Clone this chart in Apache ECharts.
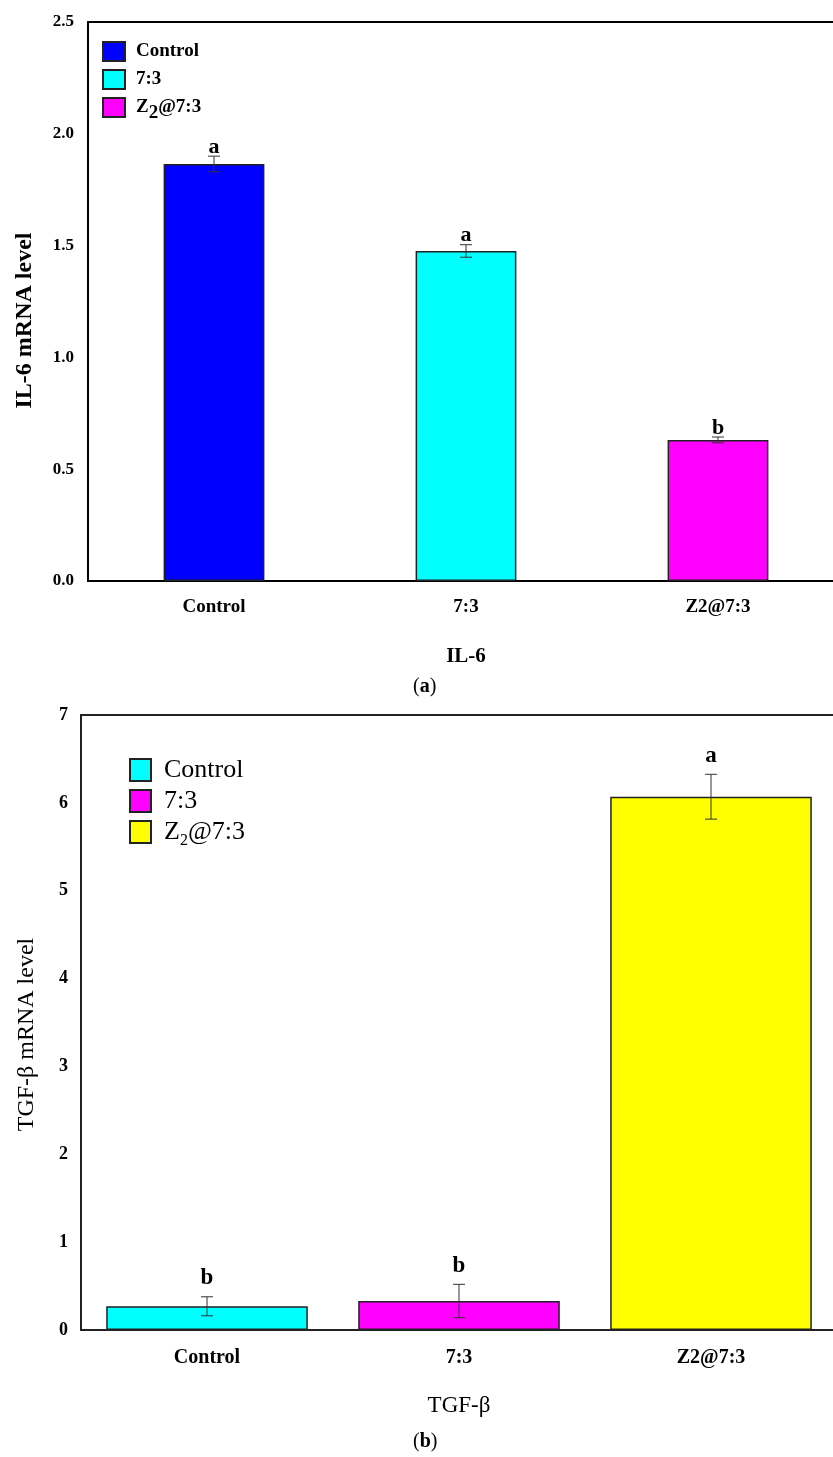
<!DOCTYPE html>
<html>
<head>
<meta charset="utf-8">
<script src="https://cdn.jsdelivr.net/npm/echarts@6/dist/echarts.min.js"></script>
<style>
  html, body { margin: 0; padding: 0; background: #fff; }
  #chart { width: 833px; height: 1457px; }
</style>
</head>
<body>
<div id="chart"></div>
<script>
// ---- Data ----
const categories = ['Control', '7:3', 'Z2@7:3'];

const il6Values = [1.865, 1.476, 0.631];
const il6Errors = [0.035, 0.028, 0.013];
const il6Letters = ['a', 'a', 'b'];
const il6Colors = ['#0000ff', '#00ffff', '#ff00ff'];
const il6Legend = ['Control', '7:3', 'Z2@7:3'];

const tgfValues = [0.27, 0.33, 6.07];
const tgfErrors = [0.108, 0.19, 0.255];
const tgfLetters = ['b', 'b', 'a'];
const tgfColors = ['#00ffff', '#ff00ff', '#ffff00'];
const tgfLegend = ['Control', '7:3', 'Z2@7:3'];

const il6Axis = { min: 0, max: 2.5, interval: 0.5 };
const tgfAxis = { min: 0, max: 7, interval: 1 };

// ---- Build ----
const FONT = '"Liberation Serif", "Times New Roman", serif';
const chart = echarts.init(document.getElementById('chart'), null, { renderer: 'canvas' });

function barSeries(prefix, values, colors, gridIdx, barWidth, borderW) {
  return values.map((v, i) => ({
    name: prefix + i,
    type: 'bar',
    xAxisIndex: gridIdx * 2,
    yAxisIndex: gridIdx,
    stack: 'g' + gridIdx,
    barWidth: barWidth,
    data: values.map((val, j) => (j === i ? val : '-')),
    itemStyle: { color: colors[i], borderColor: '#222', borderWidth: borderW },
    emphasis: { disabled: true },
    z: 2
  }));
}

function errSeries(values, errors, letters, gridIdx, letterFont, letterGap) {
  return {
    type: 'custom',
    xAxisIndex: gridIdx * 2,
    yAxisIndex: gridIdx,
    z: 5,
    silent: true,
    data: values.map((v, i) => [i, v, errors[i]]),
    renderItem: function (params, api) {
      const x = api.value(0), y = api.value(1), e = api.value(2);
      const top = api.coord([x, y + e]);
      const bot = api.coord([x, y - e]);
      const cap = 6;
      const st = { stroke: '#333', lineWidth: 1 };
      return {
        type: 'group',
        children: [
          { type: 'line', shape: { x1: top[0], y1: top[1], x2: bot[0], y2: bot[1] }, style: st },
          { type: 'line', shape: { x1: top[0] - cap, y1: top[1], x2: top[0] + cap, y2: top[1] }, style: st },
          { type: 'line', shape: { x1: bot[0] - cap, y1: bot[1], x2: bot[0] + cap, y2: bot[1] }, style: st },
          { type: 'text', x: top[0], y: top[1] - letterGap,
            style: { text: letters[params.dataIndex], fill: '#000', align: 'center', verticalAlign: 'bottom',
                     font: 'bold ' + letterFont + 'px ' + FONT } }
        ]
      };
    }
  };
}

const il6Map = {}; il6Legend.forEach((t, i) => il6Map['il6_' + i] = t);
const tgfMap = {}; tgfLegend.forEach((t, i) => tgfMap['tgf_' + i] = t);

function legendFmt(map) {
  return function (name) {
    const t = map[name];
    if (t.indexOf('Z2') === 0) return '{n|Z}{s|2}{n|' + t.slice(2) + '}';
    return '{n|' + t + '}';
  };
}

const capRich = {
  p: { fontSize: 20, fontFamily: FONT, fontWeight: 'normal', color: '#000' },
  b: { fontSize: 20, fontFamily: FONT, fontWeight: 'bold', color: '#000' }
};

const option = {
  animation: false,
  backgroundColor: '#fff',
  textStyle: { fontFamily: FONT },
  title: [
    { text: '{p|(}{b|a}{p|)}', left: 413, top: 677, padding: 0,
      textStyle: { fontWeight: 'normal', rich: capRich } },
    { text: '{p|(}{b|b}{p|)}', left: 413, top: 1432, padding: 0,
      textStyle: { fontWeight: 'normal', rich: capRich } }
  ],
  legend: [
    {
      orient: 'vertical', left: 102, top: 41, padding: 0, icon: 'rect',
      itemWidth: 22, itemHeight: 19, itemGap: 7,
      data: il6Legend.map((t, i) => 'il6_' + i),
      formatter: legendFmt(il6Map),
      selectedMode: false,
      textStyle: { padding: [0, 0, 0, 6],
        rich: { n: { fontSize: 19, fontWeight: 'bold', fontFamily: FONT, color: '#000' },
                s: { fontSize: 19, fontWeight: 'bold', fontFamily: FONT, color: '#000', padding: [12, 0, 0, 0] } } }
    },
    {
      orient: 'vertical', left: 129, top: 757, padding: 0, icon: 'rect',
      itemWidth: 21, itemHeight: 22, itemGap: 5,
      data: tgfLegend.map((t, i) => 'tgf_' + i),
      formatter: legendFmt(tgfMap),
      selectedMode: false,
      textStyle: { padding: [0, 0, 0, 8],
        rich: { n: { fontSize: 26, fontFamily: FONT, color: '#000' },
                s: { fontSize: 16, fontFamily: FONT, color: '#000', padding: [18, 0, 0, 0] } } }
    }
  ],
  grid: [
    { left: 88, top: 22, width: 756, height: 559, show: true, borderColor: '#000', borderWidth: 2,
      outerBoundsMode: 'none', containLabel: false },
    { left: 81, top: 715, width: 756, height: 615, show: true, borderColor: '#222', borderWidth: 2,
      outerBoundsMode: 'none', containLabel: false }
  ],
  xAxis: [
    { type: 'category', gridIndex: 0, data: categories,
      axisLine: { lineStyle: { color: '#000', width: 2 } },
      axisTick: { length: 6, lineStyle: { color: '#000', width: 1.5 } },
      axisLabel: { margin: 17, fontSize: 19, fontWeight: 'bold', color: '#000', fontFamily: FONT },
      name: 'IL-6', nameLocation: 'middle', nameGap: 65,
      nameTextStyle: { fontSize: 21, fontWeight: 'bold', color: '#000', fontFamily: FONT } },
    { type: 'category', gridIndex: 0, data: categories, position: 'bottom',
      axisLine: { show: false },
      axisTick: { alignWithLabel: true, length: 11, lineStyle: { color: '#000', width: 1.5 } },
      axisLabel: { show: false } },
    { type: 'category', gridIndex: 1, data: categories,
      axisLine: { lineStyle: { color: '#222', width: 2 } },
      axisTick: { length: 7, lineStyle: { color: '#222', width: 1.3 } },
      axisLabel: { margin: 18, fontSize: 20, fontWeight: 'bold', color: '#000', fontFamily: FONT },
      name: 'TGF-β', nameLocation: 'middle', nameGap: 64,
      nameTextStyle: { fontSize: 23, color: '#000', fontFamily: FONT } },
    { type: 'category', gridIndex: 1, data: categories, position: 'bottom',
      axisLine: { show: false },
      axisTick: { alignWithLabel: true, length: 12, lineStyle: { color: '#222', width: 1.3 } },
      axisLabel: { show: false } }
  ],
  yAxis: [
    { type: 'value', gridIndex: 0, min: il6Axis.min, max: il6Axis.max, interval: il6Axis.interval,
      axisLine: { show: true, lineStyle: { color: '#000', width: 2 } },
      axisTick: { show: false }, splitLine: { show: false },
      axisLabel: { margin: 14, fontSize: 17, fontWeight: 'bold', color: '#000', fontFamily: FONT,
                   formatter: v => v.toFixed(1) },
      name: 'IL-6 mRNA level', nameLocation: 'middle', nameGap: 51,
      nameTextStyle: { fontSize: 24, fontWeight: 'bold', color: '#000', fontFamily: FONT,
                       padding: [0, 38, 0, 0] } },
    { type: 'value', gridIndex: 1, min: tgfAxis.min, max: tgfAxis.max, interval: tgfAxis.interval,
      axisLine: { show: true, lineStyle: { color: '#222', width: 2 } },
      axisTick: { show: false }, splitLine: { show: false },
      axisLabel: { margin: 13, fontSize: 18, fontWeight: 'bold', color: '#000', fontFamily: FONT },
      name: 'TGF-β mRNA level', nameLocation: 'middle', nameGap: 42,
      nameTextStyle: { fontSize: 24, color: '#000', fontFamily: FONT, padding: [0, 24, 0, 0] } }
  ],
  series: [
    ...barSeries('il6_', il6Values, il6Colors, 0, '40%', 1.5),
    errSeries(il6Values, il6Errors, il6Letters, 0, 22, -2),
    ...barSeries('tgf_', tgfValues, tgfColors, 1, '80%', 1.5),
    errSeries(tgfValues, tgfErrors, tgfLetters, 1, 23, 7)
  ]
};
chart.setOption(option);
</script>
</body>
</html>
